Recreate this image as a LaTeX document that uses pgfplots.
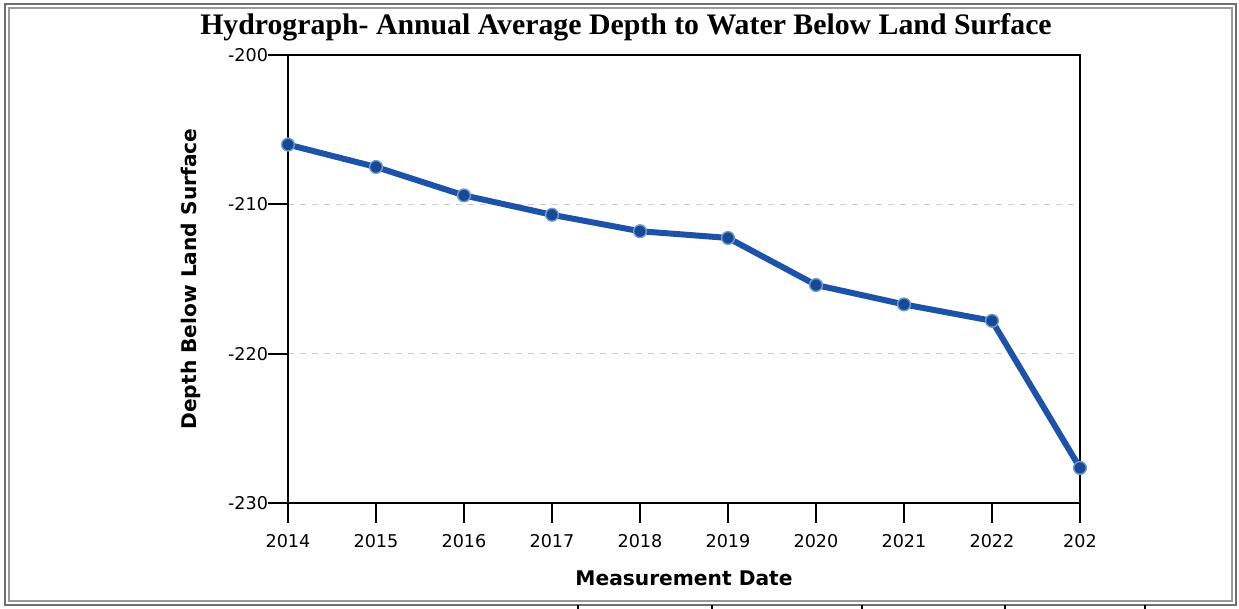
\documentclass[border=0pt]{standalone}
\usepackage{pgfplots}
\pgfplotsset{compat=1.18}
\usepackage{fontspec}
\setmainfont{DejaVu Sans}
\newfontfamily\titlefont{Liberation Serif}
\definecolor{lineblue}{RGB}{28,82,168}
\definecolor{markfill}{RGB}{24,72,150}
\definecolor{markedge}{RGB}{110,160,200}
\definecolor{framegray}{RGB}{110,110,110}
\begin{document}
\begin{tikzpicture}
\begin{scope}[x=0.5pt,y=-0.5pt]
\useasboundingbox (0,0) rectangle (1239,609);
\draw[framegray,line width=1.2pt] (5,4) rectangle (1236,605);
\draw[framegray!70,line width=0.6pt] (9,8) rectangle (1232,601);
\foreach \xx in {578,712,862,1005,1145}{\draw[black,line width=0.8pt] (\xx,605) -- (\xx,609);}
\node[font=\titlefont\fontsize{14.9}{16}\selectfont\bfseries] at (626,27) {Hydrograph- Annual Average Depth to Water Below Land Surface};
\end{scope}
\begin{axis}[
  at={(144pt,-251.5pt)}, anchor=south west,
  scale only axis, width=396pt, height=224pt,
  xmin=2014, xmax=2023, ymin=-230, ymax=-200,
  xtick={2014,2015,2016,2017,2018,2019,2020,2021,2022,2023},
  xticklabels={2014,2015,2016,2017,2018,2019,2020,2021,2022,202},
  ytick={-230,-220,-210,-200},
  yticklabels={-230,-220,-210,-200},
  tick align=outside, major tick length=10pt,
  xtick pos=bottom, ytick pos=left,
  tick style={black,line width=0.9pt},
  axis line style={black,line width=0.9pt},
  ticklabel style={font=\fontsize{8.8}{10}\selectfont},
  xticklabel style={yshift=-2pt},
  yticklabel style={xshift=3.5pt},
  ymajorgrids, grid style={gray!40,dashed,line width=0.4pt},
  xlabel={\bfseries Measurement Date},
  ylabel={\bfseries Depth Below Land Surface},
  label style={font=\fontsize{10.1}{12}\selectfont},
  xlabel style={yshift=-5pt},
  ylabel style={yshift=7pt},
  clip=false,
]
\addplot[lineblue,line width=3pt,mark=*,mark size=3.2pt,
  mark options={fill=markfill,draw=markedge,line width=0.7pt}] coordinates {
(2014,-206.0) (2015,-207.5) (2016,-209.4) (2017,-210.7) (2018,-211.8)
(2019,-212.25) (2020,-215.4) (2021,-216.7) (2022,-217.8) (2023,-227.65)
};
\end{axis}
\end{tikzpicture}
\end{document}
